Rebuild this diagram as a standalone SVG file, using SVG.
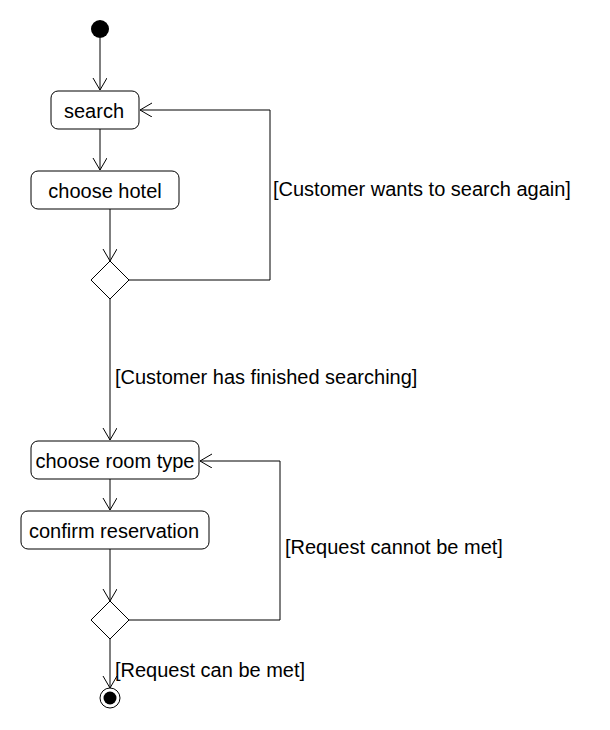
<svg xmlns="http://www.w3.org/2000/svg" width="610" height="730" viewBox="0 0 610 730">
<defs>
<marker id="arr" markerWidth="14" markerHeight="16" refX="12" refY="7" orient="auto" markerUnits="userSpaceOnUse">
<path d="M0,0 L12,7 L0,14" fill="none" stroke="#000" stroke-width="1"/>
</marker>
<style>
.box{fill:#fff;stroke:#000;stroke-width:1}
.t{font-family:"Liberation Sans",Arial,sans-serif;font-size:20px;fill:#000}
.c{fill:none;stroke:#000;stroke-width:1}
</style>
</defs>
<rect width="610" height="730" fill="#fff"/>
<g id="connectors">
<line class="c" x1="100" y1="38" x2="100" y2="90" marker-end="url(#arr)"/>
<line class="c" x1="100" y1="129" x2="100" y2="170" marker-end="url(#arr)"/>
<line class="c" x1="110" y1="209" x2="110" y2="261" marker-end="url(#arr)"/>
<polyline class="c" points="129,280 270,280 270,110 140,110" marker-end="url(#arr)"/>
<line class="c" x1="110" y1="299" x2="110" y2="440" marker-end="url(#arr)"/>
<line class="c" x1="110" y1="479" x2="110" y2="510" marker-end="url(#arr)"/>
<line class="c" x1="110" y1="549" x2="110" y2="601" marker-end="url(#arr)"/>
<polyline class="c" points="129,620 280,620 280,461 200,461" marker-end="url(#arr)"/>
<line class="c" x1="110" y1="639" x2="110" y2="688" marker-end="url(#arr)"/>
<text class="t" x="273" y="196">[Customer wants to search again]</text>
<text class="t" x="115" y="384">[Customer has finished searching]</text>
<text class="t" x="285" y="554">[Request cannot be met]</text>
<text class="t" x="115" y="677">[Request can be met]</text>
</g>
<g id="start"><circle cx="100" cy="29" r="9" fill="#000"/></g>
<g id="search"><rect class="box" x="51" y="91" width="88" height="38" rx="7"/><text class="t" x="94" y="118" text-anchor="middle">search</text></g>
<g id="chooseHotel"><rect class="box" x="31" y="171" width="148" height="38" rx="7"/><text class="t" x="105" y="198" text-anchor="middle">choose hotel</text></g>
<g id="decision1"><polygon class="box" points="110,261 129,280 110,299 91,280"/></g>
<g id="chooseRoom"><rect class="box" x="31" y="441" width="168" height="38" rx="7"/><text class="t" x="115" y="468" text-anchor="middle">choose room type</text></g>
<g id="confirm"><rect class="box" x="21" y="511" width="188" height="38" rx="7"/><text class="t" x="114" y="538" text-anchor="middle">confirm reservation</text></g>
<g id="decision2"><polygon class="box" points="110,601 129,620 110,639 91,620"/></g>
<g id="end"><circle cx="110" cy="698" r="10" fill="#fff" stroke="#000" stroke-width="1"/><circle cx="110" cy="698" r="6.5" fill="#000"/></g>
</svg>
